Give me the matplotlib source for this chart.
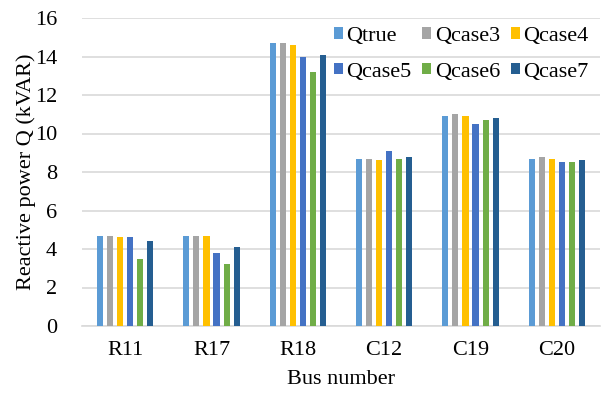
import numpy as np
import matplotlib.pyplot as plt

plt.rcParams['font.family'] = ['Liberation Serif', 'DejaVu Serif']

buses = ["R11", "R17", "R18", "C12", "C19", "C20"]
series_names = ["Qtrue", "Qcase3", "Qcase4", "Qcase5", "Qcase6", "Qcase7"]
q_true = [4.7, 4.7, 14.7, 8.7, 10.9, 8.7]
q_case3 = [4.7, 4.7, 14.7, 8.7, 11.0, 8.8]
q_case4 = [4.6, 4.7, 14.6, 8.6, 10.9, 8.7]
q_case5 = [4.6, 3.8, 14.0, 9.1, 10.5, 8.5]
q_case6 = [3.5, 3.2, 13.2, 8.7, 10.7, 8.5]
q_case7 = [4.4, 4.1, 14.1, 8.8, 10.8, 8.6]
colors = ["#5B9BD5", "#A5A5A5", "#FFC000", "#4472C4", "#70AD47", "#255E91"]

series = [q_true, q_case3, q_case4, q_case5, q_case6, q_case7]
fs = 16

fig = plt.figure(figsize=(6.12, 3.94), dpi=100)
ax = fig.add_axes([82 / 612, 1 - 326 / 394, 518 / 612, 308 / 394])

x = np.arange(len(buses))
pitch = 0.116
width = 0.07
for i, (name, vals, c) in enumerate(zip(series_names, series, colors)):
    offs = (i - 2.5) * pitch
    ax.bar(x + offs, vals, width, color=c, label=name, zorder=3)

ax.set_xlim(-0.5, len(buses) - 0.5)
ax.set_ylim(0, 16)
ax.set_yticks(range(0, 17, 2))
ax.set_xticks(x)
ax.set_xticklabels(buses)
ax.grid(axis='y', color='#D9D9D9', linewidth=1.2, zorder=0)
for s in ['top', 'right', 'left']:
    ax.spines[s].set_visible(False)
ax.spines['bottom'].set_color('#D9D9D9')
ax.spines['bottom'].set_linewidth(1.2)
ax.tick_params(length=0, labelsize=fs)
ax.tick_params(axis='y', pad=18)
ax.tick_params(axis='x', pad=11)
ax.set_xlabel("Bus number", fontsize=fs, labelpad=7)
ax.set_ylabel("Reactive power Q (kVAR)", fontsize=fs)
ax.yaxis.set_label_coords(-0.088, 0.5)

# legend filled row by row: 3 across, 2 down
h, l = ax.get_legend_handles_labels()
order = [0, 3, 1, 4, 2, 5]
ax.legend([h[k] for k in order], [l[k] for k in order], ncol=3,
          loc='upper right', bbox_to_anchor=(0.995, 1.0), frameon=False,
          fontsize=fs, handlelength=0.4, handleheight=0.4, handletextpad=0.15,
          columnspacing=0.5, labelspacing=0.75, borderaxespad=0.0)

plt.savefig("out.png", dpi=100)
